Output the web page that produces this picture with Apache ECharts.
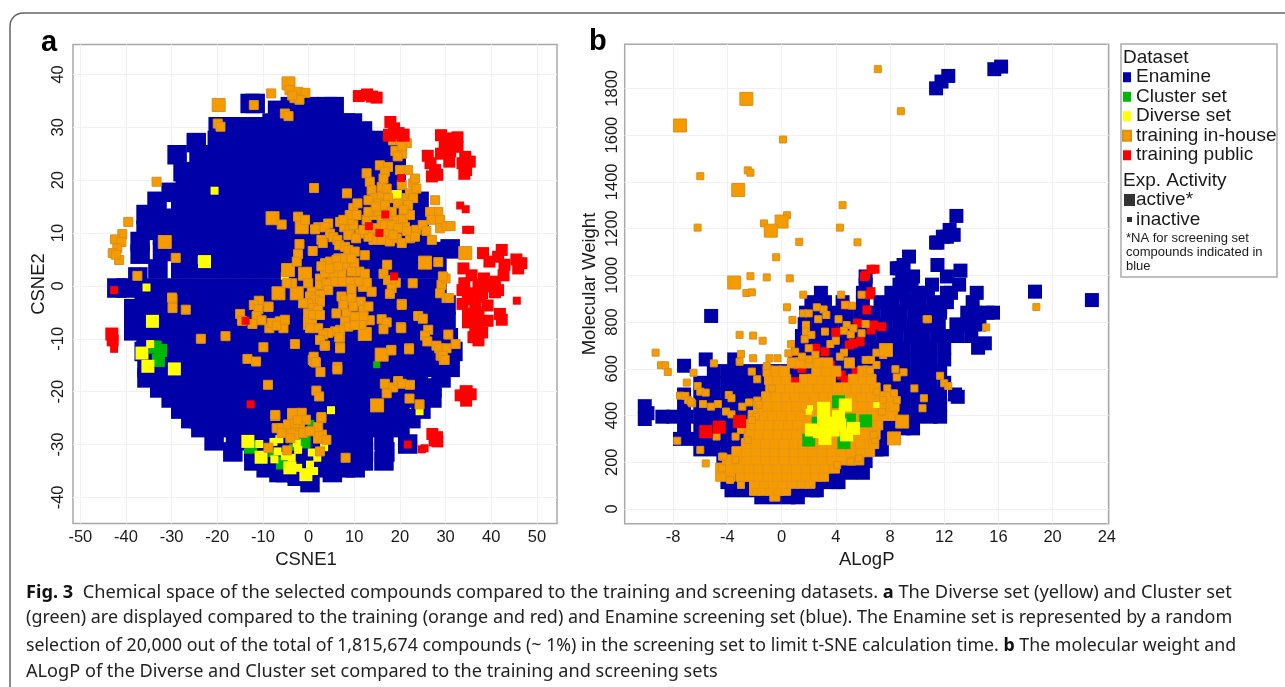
<!DOCTYPE html>
<html><head><meta charset="utf-8">
<script src="https://cdn.jsdelivr.net/npm/echarts@6/dist/echarts.min.js"></script>
<style>html,body{margin:0;padding:0;background:#fff}#c{width:1285px;height:687px}</style>
</head><body><div id="c"></div>
<script>
const xTicksA=[-50,-40,-30,-20,-10,0,10,20,30,40,50];
const yTicksA=[-40,-30,-20,-10,0,10,20,30,40];
const xTicksB=[-8,-4,0,4,8,12,16,20,24];
const yTicksB=[0,200,400,600,800,1000,1200,1400,1600,1800];
const names=['Enamine','Cluster set','Diverse set','training in-house','training public'];

// Panel a: [CSNE2, [CSNE1...]]
const enamineA=[
[34.5,[-12.8,-11.7]],[33.9,[-4,0,4,5.6]],[33.2,[-6.8]],
[30.8,[-8,-4,0,4,8,9.6]],[30.1,[-19.8,-16,-12,-9]],[29.3,[11.8]],
[27.1,[-24.6]],[27.5,[-20,-16,-12,-8,-4,0,4,8,12,15.9]],
[24.8,[-28.8,-24,-20,-16,-12,-8,-4,0,4,8,12,16,19.2]],
[21.6,[-27.5,-24,-20,-16,-12,-8,-4,0,4,8,12,16,19.2]],
[17.7,[-30.1]],[18.4,[-27,-24,-20,-16,-12,-8,-4,0,4,8,12,16,19.2]],
[16,[-33.2,-28,-24,-20,-16,-12,-8,-4,0,4,8,12,16,20,24.2]],
[13.5,[-35.6]],[12.8,[-32,-28,-24,-20,-16,-12,-8,-4,0,4,8,12,16,20,24.2]],
[10.5,[-35.6]],[9.6,[-32,-28,-24,-20,-16,-12,-8,-4,0,4,8,12,16,20,24.2]],
[8.4,[-36.9]],[7,[31]],[6,[-36.9]],
[6.5,[-32,-28,-24,-20,-16,-12,-8,-4,0,4,8,12,16,20,24,28]],
[3.2,[-33,-28,-24,-20,-16,-12,-8,-4,0,4,8,12,16,20,24,28.1]],[1.7,[-37.4]],
[-0.4,[-42,-40,-36,-32,-28,-24,-20,-16,-12,-8,-4,0,4,8,12,16,20,24,28.1]],
[-4.3,[-38.3]],[-3.6,[-36,-32,-28,-24,-20,-16,-12,-8,-4,0,4,8,12,16,20,24,28,30.1]],
[-6.8,[-38.3,-36,-32,-28,-24,-20,-16,-12,-8,-4,0,4,8,12,16,20,24,28,30.1]],
[-8.5,[-38.3]],[-9.8,[-35.6,-32,-28,-24,-20,-16,-12,-8,-4,0,4,8,12,16,20,24,28,30.6]],
[-12.4,[-36,-32,-28,-24,-20,-16,-12,-8,-4,0,4,8,12,16,20,24,28,31.6]],
[-15.4,[-35.4,-32,-28,-24,-20,-16,-12,-8,-4,0,4,8,12,16,20,24,28,31]],
[-17.4,[-35.4,29]],[-18.3,[-32,-28,-24,-20,-16,-12,-8,-4,0,4,8,12,16,20,24]],
[-19.3,[-32.6,27]],[-21.2,[-30.1,-28,-24,-20,-16,-12,-8,-4,0,4,8,12,16,20,24,27]],
[-23.3,[-28,-24,-20,-16,-12,-8,-4,0,4,8,12,16,20,24.6]],
[-25.1,[-25.8,-24,-20,-16,-12,-8,-4,0,4,8,12,16,20,22.4]],
[-26.8,[-23.6,-20,-16,-12,-8,-4,0,4,8,12,16,20]],
[-29.3,[-20.7,-16,-12,-8,-4,0,4,8,12,16.5]],[-29.9,[21.7]],
[-31.4,[-16.6,-12,-8,-4,0,4,8,12,16.7]],
[-33.1,[-12,-8,-4,0,4,8,12,16.5]],
[-34.4,[-9.3,-4,0,4,8,10.2]],[-35.3,[-6.5,-5,5.2]],[-36,[-2.5]],[-37.2,[0.3]]
];
const inhouseSmallA=[[-5.9,11.6],[-2.3,13.1],[-0.8,12.5],[-2,7.9],[-2.3,6],[0.9,6.6],[2.1,11.1],[1.4,10.7],[2.8,8.7],[3.1,8.1],
[4.3,11.8],[3.6,11.1],[4.7,9.9],[5.4,9.2],[6.3,8.7],[6.7,7.7],[8,7.4],[8.7,6.8],[10.1,6.5],[12.3,5.8],[6.5,5.2],[6.9,12.1],[7.8,11.1],[9,10.6],[9.8,11.5],[9,12.5],[9.8,14.7],[10.7,15.6],[8.4,17.5],[9,13.4],[10.5,13.4],[7.6,12.5],[8.7,9.6],[11.2,9.9],[10.4,9],
[12.7,12.5],[14.2,13.4],[15.3,14],[13.1,14],[16,12.5],[17.8,13.1],[19.3,12.5],[20.7,12.6],[22.2,13.4],[21.1,11.1],[13.8,10.6],[14.9,10.9],[16.7,11.5],[18.2,11.5],[19.6,10.9],[17.4,9.9],[14.2,8.7],[16,8.7],[17.8,8.4],[19.3,9],[20.4,8.1],[18.5,9.6],[22.2,9],[23.6,10.6],[23.3,9.3],[25,11.5],[25.8,10.4],[27,8.7],[21.5,10.4],[13.1,9.3],[12,10.6],
[12.7,21.3],[13.4,19.7],[13.8,18.1],[14.5,16.6],[13.1,16.2],[16,18.7],[16,16.9],[17.4,16.6],[17.1,18.4],[15.6,22.8],[17.4,22.5],[16.7,21.6],[16.4,20.3],[15.3,15.6],[16.7,15.3],[18.2,14],[17.1,13.4],[19.6,15.6],[21.5,16.6],[22.2,17.5],[22.9,16.6],[21.8,15.3],[22.9,19.4],[23.3,20.3],[21.8,21.9],[20,21.9],[20.4,19.1],[23.6,18.4],[14.7,15],[20.8,14.4],
[18.5,27.5],[20,27.8],[21.5,27],[19,25.5],[20.5,25],[20.5,26.5],[19.5,24.5],
[28.4,14],[26.6,14],[26.9,12.5],[28.8,12.5],[28.8,10.9],[30.2,11.3],[31.1,11.3],[27.7,16.2],
[-2.6,4.6],[-3.6,.5],[-4.8,.5],[-0.1,.5],[.7,-1.1],[2.5,1.4],[2.5,.2],[3.6,4.3],[4.7,4.6],[6.1,4.9],[8.3,4],[10,4.3],[11.1,2.7],[9.4,2.7],[7.2,2.4],[5.4,2.4],[3.6,2.4],[2.8,3.7],[4.7,3.3],[6.5,3.7],[8,5.2],[9.4,5.2],[12.3,2.3],[10.9,.8],[9.1,.8],[7.2,.8],[5.4,.8],[3.9,.5],[4.3,-.8],[13.8,-1.1],[2.5,-1.7],[.3,-2],[1.4,-2.6],[-.1,-3.3],[2.5,-3],[-1.2,-3.3],[1,-4.2],[2.1,-4.5],[-.1,-5.2],[1,-5.5],[2.5,-5.5],[2.1,-8],[.3,-8],[7.2,-2],[8,-2.6],[9.4,-2.3],[9.4,-.6],[11.4,-3],[7.6,-3.6],[6.1,-5.2],[8.3,-5.2],[9.8,-3.9],[12,-4.5],[13.1,-3.9],[13.4,-6.5],[12,-5.8],[10.1,-5.8],[8,-6.7],[8.7,-7.7],[6.9,-8.3],[5.8,-8.6],[4.3,-8.9],[3.2,-9.2],[6.9,-9.7],[2.5,-10.2],[3.6,-11.3],[6.9,-11.6],[11.6,-7.4],[10.1,-7.4],[6.3,-15.3],[1.2,-14.3],[.9,-14],[1.6,-14.5],[-3,-11],[-9.9,-11.6],[-13.4,-13.8],[-11.5,-14.3],
[-8.8,-3.9],[-10.9,-2.8],[-12,-3.6],[-11,-4.4],[-11.4,-5.7],[-10.3,-6.5],[-8.6,-8],[-8.1,-7],[-6.3,-6.7],[-5.5,-8],[-7,-7.5],[-5.2,-6.4],[-15,-5.3],[-14.6,-6.6],[-12.3,-7.2],
[17.2,4],[16.4,2.3],[17.4,1.1],[19.1,.6],[18.2,-.4],[17.8,-1.5],[22.8,.5],[20.4,-3.4],[24,-5.7],[25,-6.2],[16,-6.3],[17.1,-6.9],[16.4,-8.2],[20.2,-7.8],[26.2,-8.3],[25.5,-9.4],[26,-10.5],[30.6,-9.2],[28,-11.3],[28.6,-11.8],[30.2,-11.8],[28.9,-13.2],[29.6,-14],[18.1,-12.1],[22,-11.8],
[28.4,4.5],[29.1,.2],[28.8,-1.4],[30.2,-2.3],[30,1.4],[29.4,1.8],
[-23.6,-10],[-18.2,-9.5],[-8.9,-18.7],[1.1,-13.4],[1.5,-14.4],[2.6,-16.3],[6.3,-15.8],[6.7,-9.7],[6.9,-11.8],[3.5,-11.3],[1.7,-19.8],[2.3,-20.9],[16.7,-18.5],[18.5,-19.2],[19.6,-18],[20.4,-18.5],[17.1,-20.3],[22.2,-18.7],[22.1,-21.3],[24.3,-22.4],[2.8,-25],[-7.3,-24.6],[8.1,-32.5],[18.1,-12.2],[22,-12],[20.4,-3.6],[20.3,-8],[30.8,-2.3],[32.2,-11],[29.4,-13.2],[29.8,-14],[-29.8,-2.5],[-29.8,-4.2],[-26.9,-4.5],[-8.8,-4],
[-12,34.2],[-8.2,36.4],[-5.2,32.6],[-4.4,32.1],[-19.9,30.7],[-19.3,30.1],[-33.3,19.7],[-39.5,12.1],[-40.8,9.8],[-42.4,8.8],[-41,8.3],[-41.9,7.1],[-42.9,6.2],[-41.5,4.9],[-42.2,5.9],[-29.1,5.3],[-37.5,1.9],[-29.9,-2.2],[1.2,18.5],
[-4.2,37],[-2.3,36.7],[-.7,36.5],[-3.1,35.5],[-2,35.2],[-3.6,36],
[-7.3,-24.4],[-1.5,-24],[-.6,-25.3],[2.8,-24.8],[2.1,-26.7],[-7,-26.9],[-5.9,-26.9],[-5.9,-27.8],[-4.5,-26.2],[-1.9,-26.5],[-1.2,-27.8],[.3,-27.5],[-3,-26],[3.9,-29.1],[2.5,-31.3],[-8.8,-30.6],[-4.7,-31.1],[-2.4,-25.4],[-4,-28.8]];
const inhouseActiveA=[[-7.9,12.8],[-1.5,11.1],[34.3,6.2],[-4.5,3],[-6.6,-1.4],[-2.6,-1.4],[-.8,2.3],[12.3,.2],[.3,-7],[12.3,-9.1],[16,-13],[15,-22.6],[-19.7,34.2],[-31.5,8.3],[-4.4,38.3],[25.5,4.4],[-3.2,-24.4],[-3.4,-27.8],[2.5,-28.5]];
const publicClusterA=[[11,35.9],[12.8,36.2],[13.9,35.8],[14.9,35.6],[17.9,31],[18.7,29.8],[19.7,28.9],
[29,28.5],[31,27.9],[32.6,28.1],[31.8,27],[29.8,27],[29,25],[31,25.4],[32.6,26.3],[30.8,23.5],[26.1,24.6],[26.7,23.2],[27.7,21.9],[28.2,21],[27,20.7],[34.3,24.4],[35.3,23.5],[33.7,23.2],[34.5,21.9],[34.1,21.2],
[38.2,6.2],[39.6,4.6],[42.3,6.8],[41.5,5.5],[45.5,5],[46.6,4.3],[45.9,3.3],[42.9,4],[42.7,2],[33.9,3.3],[35.7,2],[38.4,1.4],[40.8,.8],[34.1,.5],[37.2,.2],[39.6,-.1],[41.5,-.8],[33.7,-.8],[35.7,-1.4],[38,-1.4],[40.8,-1.2],[37.6,-2.1],[34.9,-2.5],[33.7,-3.4],[36.5,-3.7],[39.2,-3.7],[41.9,-5.3],[42.3,-6.4],[34.9,-5.3],[37.2,-5],[39.2,-6.6],[34.9,-6.9],[37.2,-6.9],[36.5,-8.4],[38,-8.8],[37.2,-10.3],[36.1,-9.7],
[-42.9,-10.3],[34.5,-20.4],[33.3,-20.7],[35.5,-20.5],[34.5,-21.7],[27.6,-29.2],[27.1,-28],[28.2,-29.4]];
const publicSmallA=[[33.2,15.2],[34.4,14.5],[34.5,10.6],[35.4,10.6],[45.6,-2.8],[-42.6,-11.9],[25.4,-30.7],[24.8,-30.9],
[13.2,11.3],[15.5,10],[16.8,13.5],[20.3,20.4],[-42.6,-.8],[18.7,1.8],[-13.8,-6.6],[-12.7,-22.4],[21.7,-30]];
const publicActiveA=[[17.7,28.5],[20.7,28.5],[-43.1,-9.1],[34.5,-20],[28,-28.7]];
const clusterSmallA=[[14.9,-14.9],[-33.4,-11],[-8.1,-31.7],[-3.5,-30.5],[.5,-26],[-.4,-29.1],[.6,-27]];
const clusterActiveA=[[-33.6,-11.6],[-32.4,-12.2],[-32.9,-14.1],[-12.7,-30.5],[-5.7,-33.5],[-1,-29.5]];
const diverseSmallA=[[-20.6,18],[-23.4,4.9],[-35.5,-.3],[-5.2,1.9],[-34.7,-11],[4.9,-23.5],[24.3,-23.7],[-10.8,-29.9],[-7.7,-29.5],[-6.4,-29],[-6.8,-31.3],[-7.5,-32.8],[-5.2,-32.2],[-2.3,-31],[-2.3,-34.4],[.3,-33.8],[1.2,-35],[.7,-31.5],[1.9,-32.5],[3.4,-30.5],[-3.7,-32.5],[-2.6,-29.7]];
const diverseActiveA=[[19,16.9],[-22.8,4.6],[-34.2,-6.7],[-36.5,-12.7],[-35.2,-15.2],[-29.4,-15.7],[-13.3,-29.4],[-10.4,-32.4],[-4.1,-34.4],[-.6,-35.7]];

// Panel b: [Molecular Weight, [ALogP...]]
const enamineB=[
[50,[-1.5,-.5,.5,1.2]],
[80,[-3.7,-2.7,-1.7,-.7,.3,1.3,2.3,2.6]],
[115,[-4,-3,-2,-1,0,1,2,3,4,4.2]],
[155,[-4.3,-3,-2,-1,0,1,2,3,4,5,6]],
[205,[-4.3,-3,-2,-1,0,1,2,3,4,5,6,6.2]],
[255,[-6,-5,-4,-3,-2,-1,0,1,2,3,4,5,6,7,7.4]],
[300,[-7.5,-6.5,-5.5,-4.5,-3.5,-2.5,-1.5,-.5,.5,1.5,2.5,3.5,4.5,5.5,6.5,7.4]],
[345,[-7.2,-6,-5,-4,-3,-2,-1,0,1,2,3,4,5,6,7,8,9,9.7]],
[395,[-8.8,-8,-7,-6,-5,-4,-3,-2,-1,0,1,2,3,4,5,6,7,8,9,10,11,11.7]],
[385,[-10.1]],[410,[-9.9]],[440,[-10.1]],
[445,[-7.2,-6,-5,-4,-3,-2,-1,0,1,2,3,4,5,6,7,8,9,10,11,11.7]],
[490,[-7.2,-6,-5,-4,-3,-2,-1,0,1,2,3,4,5,6,7,8,9,10,11,11.7,12.8]],
[540,[-6,-5,-4,-3,-2,-1,0,1,2,3,4,5,6,7,8,9,10,11,12]],
[590,[-5,-4,-3,-2,-1,0,1,2,3,4,5,6,7,8,9,10,11,11.7]],
[613,[-7.2]],[640,[-5.6,-3.5,1,2,3,4,5,6,7,8,9,10,11,12]],
[690,[1.2,2,3,4,5,6,7,8,9,10,11,12,14.5]],
[740,[1.5,2.5,3.5,4.5,5.5,6.5,7.5,8.5,9.5,10.5,11.5,12,13,14]],[709,[15]],
[790,[1.7,2.7,3.7,4.7,5.7,6.7,7.7,8.7,9.7,10.7,11.6,12.9,13.7,14.2,14.6]],
[840,[1.8,2.8,3.8,4.8,5.8,6.8,7.8,8.8,9.8,10.8,11.7,13.7,14.3,15.2,15.6]],
[885,[2.2,3.2,4.5,6,7.3,8.2,9.2,10.2,11.2,12.2,14.1]],
[925,[2.9,6,8.1,9,10,10.8,12.2,12.5,14.4]],
[960,[6.2,8.7,9.6,11.1,13.1]],[995,[6.2,8.9,9.7,12.2]],[1020,[13.2]],[1030,[8.5,8.7]],[1044,[11.5,9]],[1080,[9.4]],
[1140,[11.4,11.5]],[1165,[11.9,12.2]],[1173,[12.7]],[1194,[12.4]],[1254,[12.9]],
[1800,[11.4]],[1829,[11.8]],[1853,[12.3]],[1882,[15.7]],[1893,[16.2]],
[826,[-5.2]],[930,[18.7]],[894,[22.9]],[480,[13]]
];
const inhouseDenseB=[
[55,[-.5]],
[80,[-2,-1.4,-.8,-.2,.3]],
[110,[-2,-1.3,-.6,.1,.8,1.5,2.1]],
[140,[-4.5,-3.8,-3,-2.4,-1.7,-1,-.3,.4,1.1,1.8,2.5,3.1]],
[175,[-4.5,-3.8,-3.1,-2.4,-1.7,-1,-.3,.4,1.1,1.8,2.5,3.2,3.9]],
[210,[-4,-3.3,-2.6,-1.9,-1.2,-.5,.2,.9,1.6,2.3,3,3.7,4.4,5.1,5.7]],
[245,[-3.3,-2.6,-1.9,-1.2,-.5,.2,.9,1.6,2.3,3,3.7,4.4,5.1,5.8,6.5]],
[280,[-2.6,-1.9,-1.2,-.5,.2,.9,1.6,2.3,3,3.7,4.4,5.1,5.8,6.5,6.8]],
[320,[-2.4,-1.7,-1,-.3,.4,1.1,1.8,2.5,3.2,3.9,4.6,5.3,6,6.7,6.9]],
[360,[-2.3,-1.6,-.9,-.2,.5,1.2,1.9,2.6,3.3,4,4.7,5.4,6.1,6.8,7.1]],
[400,[-2.1,-1.4,-.7,0,.7,1.4,2.1,2.8,3.5,4.2,4.9,5.6,6.3,7,7.7,8.2]],
[440,[-1.7,-1,-.3,.4,1.1,1.8,2.5,3.2,3.9,4.6,5.3,6,6.7,7.4,8.1,8.3]],
[480,[-1.1,-.4,.3,1,1.7,2.4,3.1,3.8,4.5,5.2,5.9,6.6,7.3,8]],
[518,[-.8,-.1,.6,1.3,2,2.7,3.4,4.1,4.8,5.5,6.2,6.9]],
[555,[-.9,-.3,.3,1.7,2.3,3,3.6,5.3,6,6.6]],
[590,[-1,-.4,.2,2.6,3.3,4,6,6.4]],
[625,[.8,1.4,2,2.7,3.4,5]]
];
const inhouseSmallB=[[7.1,1882],[8.8,1702],[.1,1581],[-6,1424],[-2.5,1449],[-2.3,1439],[4.5,1300],[-6.2,1204],[-1.3,1222],[.4,1257],[4.3,1204],[1.3,1143],[5.6,1141],[-.4,1077],[-2.3,996],[-1.1,991],[.6,987],[4.4,917],[-2.6,924],[-2.2,927],[1.6,917],[5.9,917],
[18.8,864],[10.8,812],[15.1,777],[.4,863],[.8,809],[-3.1,745],[-2.1,742],[-1.4,720],[-3,663],[-2.1,645],[-9.3,669],[-8.9,615],[-8.6,615],[-8.4,586],[-7,541],[-6.5,583],[-5,623],[-6.2,526],[-6,502],[-5.6,498],[-7.5,485],[-7.1,484],[-6.9,466],[-6.6,452],[-5.8,449],[-5.2,438],[-4.7,449],[-3.9,488],[-3.7,474],[-4.1,417],[-3.7,405],[-2.9,438],[-2.4,456],[-1.8,464],[-1.7,445],[-1.9,395],[-2.2,381],[-2.9,338],[-3.4,310],[-4.8,310],[-7.7,292],[-6,253],[-5.6,195],[-4.5,345],[-4.4,224],[-3.4,210],[-.9,645],[-.3,645],[-1.1,612],[-1.8,555],[-2.2,588],[-.7,516],
[1.6,837],[2,837],[2.6,863],[3.1,854],[3.3,830],[2.7,812],[1.8,788],[1.8,759],[2.2,745],[1.7,726],[.7,705],[3.2,759],[4.2,812],[4.7,873],[5.2,870],[6.2,792],[4.8,787],[5.3,773],[4.6,763],[5.1,747],[5.9,752],[3.6,706],[4,720],[4.6,669],[4.3,652],[1,673],[.5,666],[2,688],[2.5,659],[2,640],[1.5,652],[-3.1,630],
[7.5,659],[7,669],[6.6,638],[6.2,638],[7,616],[6.5,592],[8.4,598],[9,585],[8.5,563],[9.8,516],[7.8,516],[8.5,466],[10.5,474],[10.4,431],[10.7,812],[7,502],[7.5,466],[11.7,570],[12,538],[12.3,526],[8.3,495],[7.4,416],[6.9,295],[6.8,317],[5.7,217],[5.1,203],[4.1,188],
[-4.3,224],[-4.4,174],[-3.8,124],[-3,103],[-6.7,459],[-3,338],[-2.5,295]];
const inhouseActiveB=[[-2.6,1755],[-7.5,1641],[-3.2,1365],[0,1230],[-.8,1191],[-3.5,969],[7.7,680],[8.3,302],[8.9,374]];
const publicSmallB=[[6.3,852],[5.6,795],[6.6,766],[7.4,780],[6.8,787],[4,756],[5.3,709],[5.8,716],[5,702],[3.2,673],[2.5,688],[1.2,616],[1.5,602],[.6,516],[1,545],[1.8,509],[3.1,559],[4.4,573],[4.7,552],[5.5,588],[5.8,552],[5,552],[3.6,616],[6.9,1026],[6.6,1026],[6.2,1001],[6.1,994],[6.6,930],[6.5,916],[4.7,873],[6.3,478]];
const publicActiveB=[[-5.6,331],[-4.6,350],[-3.1,374]];
const clusterActiveB=[[4.2,459],[6.2,377],[2.7,367],[2,295],[4.6,284],[5,381]];
const diverseActiveB=[[3.1,431],[4.7,445],[3.1,388],[2.2,338],[4.2,395],[3.8,338],[2.8,331],[4.8,317],[3.2,302],[5.3,345],[3.7,367],[4.3,360],[3.3,352]];
const diverseSmallB=[[7,445],[2.1,431],[2,416]];

const rows=r=>r.flatMap(([y,xs])=>xs.map(x=>[x,y]));
const colors={'Enamine':'#0000a8','Cluster set':'#00b800','Diverse set':'#ffff00','training in-house':'#f59b00','training public':'#ff0000'};
function s(name,axis,data,size,edge){
  const st={color:colors[name],opacity:1};
  if(name==='training in-house'){st.borderColor=edge||'#d98f1c';st.borderWidth=1;}
  return {type:'scatter',name,xAxisIndex:axis,yAxisIndex:axis,data,symbol:'rect',symbolSize:size,itemStyle:st,silent:true,emphasis:{disabled:true},clip:true,animation:false};
}
const series=[
 s('Enamine',0,rows(enamineA),19.5),
 s('Cluster set',0,clusterActiveA,13),s('Cluster set',0,clusterSmallA,7),
 s('Diverse set',0,diverseActiveA,13),s('Diverse set',0,diverseSmallA,8),
 s('training in-house',0,inhouseActiveA,13),s('training in-house',0,inhouseSmallA,9),
 s('training public',0,publicClusterA,12),s('training public',0,publicActiveA,13),s('training public',0,publicSmallA,8),
 s('Enamine',1,rows(enamineB),14),
 s('training public',1,publicSmallB,9),
 s('training in-house',1,rows(inhouseDenseB),10,'#e8951a'),s('training in-house',1,inhouseSmallB,7),s('training in-house',1,inhouseActiveB,13),
 s('training public',1,publicActiveB,13),
 s('Cluster set',1,clusterActiveB,13),
 s('Diverse set',1,diverseActiveB,13),s('Diverse set',1,diverseSmallB,6)
];
const font='"Liberation Sans"';
const fmt=v=>String(v);
function xa(idx,min,max,ticks,name,pad){return {type:'value',gridIndex:idx,min,max,name,nameLocation:'middle',nameGap:27,
 nameTextStyle:{fontFamily:font,fontSize:18.5,color:'#1a1a1a',padding:pad},
 axisLine:{show:false},axisTick:{show:false,customValues:ticks},
 axisLabel:{customValues:ticks,formatter:fmt,fontFamily:font,fontSize:16.5,color:'#1a1a1a',margin:5,hideOverlap:false,showMinLabel:true,showMaxLabel:true},
 splitLine:{show:true,lineStyle:{color:'#f1f1f4',width:1}}};}
function ya(idx,min,max,ticks,name,gap,margin){return {type:'value',gridIndex:idx,min,max,name,nameLocation:'middle',nameGap:gap,
 nameTextStyle:{fontFamily:font,fontSize:18.5,color:'#1a1a1a'},
 axisLine:{show:false},axisTick:{show:false,customValues:ticks},
 axisLabel:{customValues:ticks,formatter:fmt,rotate:90,fontFamily:font,fontSize:16.5,color:'#1a1a1a',margin,hideOverlap:false,showMinLabel:true,showMaxLabel:true},
 splitLine:{show:true,lineStyle:{color:'#f1f1f4',width:1}}};}
const legendText=(t,x,y,size)=>({type:'text',x,y,silent:true,style:{text:t,fontFamily:font,fontSize:size,fill:'#1a1a1a',align:'left',verticalAlign:'middle'}});
const cap=(t,y,sx)=>({type:'text',x:26,y,scaleX:sx,silent:true,style:{text:t,fontFamily:'"Noto Sans"',fontSize:18,fill:'#222',align:'left',verticalAlign:'middle',
  rich:{b:{fontFamily:'"Noto Sans"',fontWeight:'bold',fontSize:18,fill:'#111'}}}});
const graphic=[
 {type:'rect',silent:true,z:-1,shape:{x:10,y:13,width:1500,height:900,r:13},style:{fill:'#fff',stroke:'#666',lineWidth:1.5}},
 {type:'text',x:41,y:43,silent:true,style:{text:'a',fontFamily:font,fontWeight:'bold',fontSize:29,fill:'#000',verticalAlign:'middle'}},
 {type:'text',x:589,y:42,silent:true,style:{text:'b',fontFamily:font,fontWeight:'bold',fontSize:29,fill:'#000',verticalAlign:'middle'}},
 {type:'rect',silent:true,shape:{x:1121,y:44,width:156,height:233},style:{fill:'none',stroke:'#aaa',lineWidth:1.5}},
 legendText('Dataset',1123,57.5,19),
 legendText('Exp. Activity',1123,180.5,19),
 {type:'rect',silent:true,shape:{x:1124,y:194,width:11,height:12},style:{fill:'#333'}},
 legendText('active*',1136,199.5,19),
 {type:'rect',silent:true,shape:{x:1127,y:217,width:5,height:5},style:{fill:'#333'}},
 legendText('inactive',1136,219.5,19),
 legendText('*NA for screening set',1126,238,13),
 legendText('compounds indicated in',1126,252,13),
 legendText('blue',1126,266,13),
 cap('{b|Fig. 3}  Chemical space of the selected compounds compared to the training and screening datasets. {b|a} The Diverse set (yellow) and Cluster set',592.5,1.012),
 cap('(green) are displayed compared to the training (orange and red) and Enamine screening set (blue). The Enamine set is represented by a random',618,0.996),
 cap('selection of 20,000 out of the total of 1,815,674 compounds (~ 1%) in the screening set to limit t-SNE calculation time. {b|b} The molecular weight and',645.5,0.987),
 cap('ALogP of the Diverse and Cluster set compared to the training and screening sets',671.5,1.008)
];
const chart=echarts.init(document.getElementById('c'),null,{renderer:'canvas'});
chart.setOption({
 animation:false,backgroundColor:'#fff',
 grid:[{left:73,top:44.5,width:484,height:479,show:true,borderColor:'#a8a8a8',borderWidth:1.5},
       {left:624.7,top:44.3,width:484,height:479.4,show:true,borderColor:'#a8a8a8',borderWidth:1.5}],
 xAxis:[xa(0,-51.6,54.4,xTicksA,'CSNE1',[0,18,0,0]),xa(1,-11.58,24.14,xTicksB,'ALogP',[0,0,0,0])],
 yAxis:[ya(0,-44.93,45.65,yTicksA,'CSNE2',25,6),ya(1,-62.9,1988.4,yTicksB,'Molecular Weight',25,4)],
 legend:{show:true,left:1122,top:67.5,orient:'vertical',padding:0,itemGap:0,itemWidth:8,itemHeight:10,icon:'rect',selectedMode:false,
   data:names,textStyle:{fontFamily:font,fontSize:19,color:'#1a1a1a',lineHeight:19.5}},
 tooltip:{show:false},
 graphic,
 series
});
</script></body></html>
